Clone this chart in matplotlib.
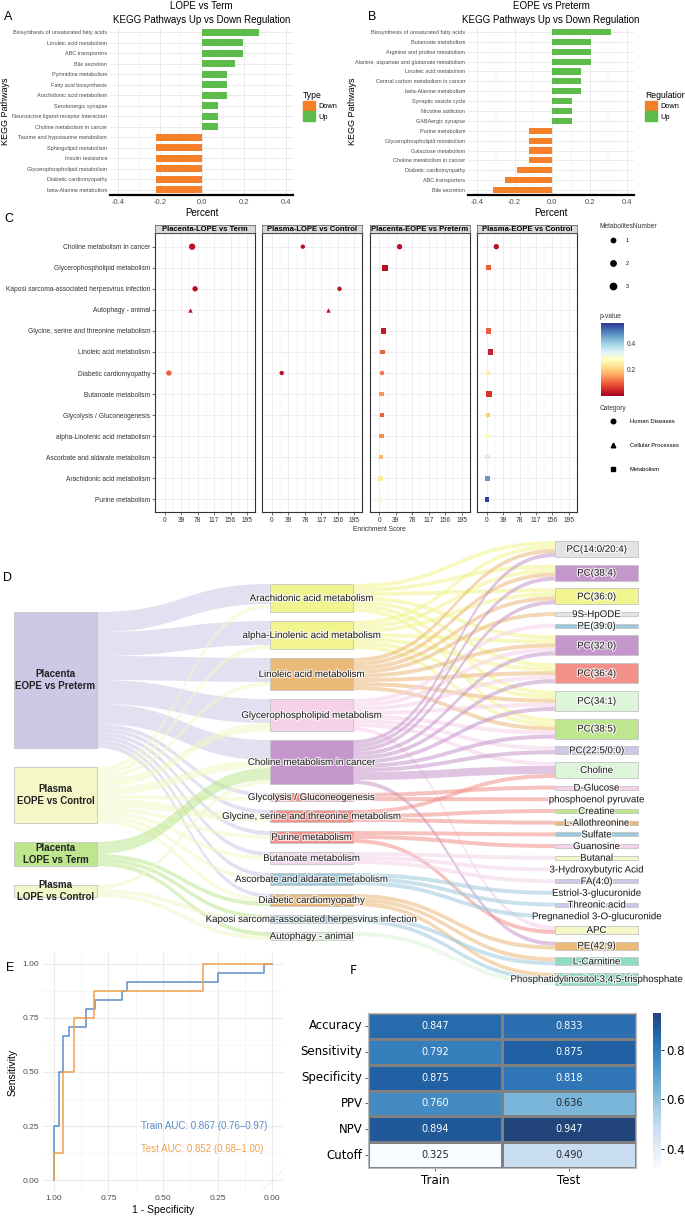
import numpy as np
import matplotlib
matplotlib.use("Agg")
import matplotlib.pyplot as plt
import matplotlib.patheffects as pe
from matplotlib.patches import Patch, PathPatch
from matplotlib.path import Path
from matplotlib.lines import Line2D
from matplotlib.colors import Normalize, ListedColormap
from matplotlib.cm import ScalarMappable
import seaborn as sns

plt.rcParams['font.family'] = ['Liberation Sans', 'DejaVu Sans']

W, H = 685, 1219  # pixels
UP, DOWN = "#5DBB4C", "#F4812A"
GRID = "#EBEBEB"
TXT = "#4D4D4D"

# ---------------- A / B : KEGG up vs down ----------------
a_paths = ["Biosynthesis of unsaturated fatty acids", "Linoleic acid metabolism",
           "ABC transporters", "Bile secretion", "Pyrimidine metabolism",
           "Fatty acid biosynthesis", "Arachidonic acid metabolism",
           "Serotonergic synapse", "Neuroactive ligand-receptor interaction",
           "Choline metabolism in cancer", "Taurine and hypotaurine metabolism",
           "Sphingolipid metabolism", "Insulin resistance",
           "Glycerophospholipid metabolism", "Diabetic cardiomyopathy",
           "beta-Alanine metabolism"]
a_pct = [0.273, 0.195, 0.195, 0.156, 0.117, 0.117, 0.117, 0.078, 0.078, 0.078,
         -0.219, -0.219, -0.219, -0.219, -0.219, -0.219]

b_paths = ["Biosynthesis of unsaturated fatty acids", "Butanoate metabolism",
           "Arginine and proline metabolism",
           "Alanine, aspartate and glutamate metabolism", "Linoleic acid metabolism",
           "Central carbon metabolism in cancer", "beta-Alanine metabolism",
           "Synaptic vesicle cycle", "Nicotine addiction", "GABAergic synapse",
           "Purine metabolism", "Glycerophospholipid metabolism",
           "Galactose metabolism", "Choline metabolism in cancer",
           "Diabetic cardiomyopathy", "ABC transporters", "Bile secretion"]
b_pct = [0.313, 0.208, 0.208, 0.208, 0.156, 0.156, 0.156, 0.104, 0.104, 0.104,
         -0.125, -0.125, -0.125, -0.125, -0.188, -0.25, -0.313]

# ---------------- C : enrichment dot plot ----------------
c_groups = ["Placenta-LOPE vs Term", "Plasma-LOPE vs Control",
            "Placenta-EOPE vs Preterm", "Plasma-EOPE vs Control"]
c_paths = ["Choline metabolism in cancer", "Glycerophospholipid metabolism",
           "Kaposi sarcoma-associated herpesvirus infection", "Autophagy - animal",
           "Glycine, serine and threonine metabolism", "Linoleic acid metabolism",
           "Diabetic cardiomyopathy", "Butanoate metabolism",
           "Glycolysis / Gluconeogenesis", "alpha-Linolenic acid metabolism",
           "Ascorbate and aldarate metabolism", "Arachidonic acid metabolism",
           "Purine metabolism"]
c_kind = [0, 2, 0, 1, 2, 2, 0, 2, 2, 2, 2, 2, 2]
c_kind_names = ["Human Diseases", "Cellular Processes", "Metabolism"]
c_hit_group = [0] * 4 + [1] * 4 + [2] * 11 + [3] * 11
c_hit_path = [0, 2, 3, 6,
              0, 2, 3, 6,
              0, 1, 4, 5, 6, 7, 8, 9, 10, 11, 12,
              0, 1, 4, 5, 6, 7, 8, 9, 10, 11, 12]
c_hit_score = [65, 72, 60, 10,
               73, 160, 133, 23,
               48, 13.5, 10.4, 8, 6.4, 4.8, 6.4, 4.8, 4, 3, 2,
               23, 4.7, 5, 9.5, 4, 5.5, 4, 2.5, 2.5, 2, 1.5]
c_hit_p = [0.02, 0.02, 0.02, 0.1,
           0.02, 0.02, 0.02, 0.02,
           0.02, 0.02, 0.03, 0.1, 0.12, 0.15, 0.1, 0.14, 0.18, 0.24, 0.3,
           0.02, 0.1, 0.1, 0.04, 0.24, 0.06, 0.2, 0.27, 0.35, 0.47, 0.55]
c_hit_n = [3, 2, 1, 2,
           1, 1, 1, 1,
           2, 3, 2, 1, 1, 1, 1, 1, 1, 1, 1,
           2, 2, 2, 2, 1, 2, 1, 1, 1, 1, 1]
c_ticks = [0, 39, 78, 117, 156, 195]

# ---------------- D : sankey ----------------
d_left = ["Placenta\nEOPE vs Preterm", "Plasma\nEOPE vs Control",
          "Placenta\nLOPE vs Term", "Plasma\nLOPE vs Control"]
d_left_colors = ["#CBC9E6", "#F4F8C6", "#BDE68E", "#F2F7C8"]
d_mid = ["Arachidonic acid metabolism", "alpha-Linolenic acid metabolism",
         "Linoleic acid metabolism", "Glycerophospholipid metabolism",
         "Choline metabolism in cancer", "Glycolysis / Gluconeogenesis",
         "Glycine, serine and threonine metabolism", "Purine metabolism",
         "Butanoate metabolism", "Ascorbate and aldarate metabolism",
         "Diabetic cardiomyopathy", "Kaposi sarcoma-associated herpesvirus infection",
         "Autophagy - animal"]
d_mid_colors = ["#F2F58E", "#F2F58E", "#EBB978", "#F5D2E8", "#C596CB", "#F2918A",
                "#F2918A", "#F2918A", "#F3D5EA", "#9DC9DD", "#EBB978", "#9DC9DD",
                "#DDF3D9"]
d_right = ["PC(14:0/20:4)", "PC(38:4)", "PC(36:0)", "9S-HpODE", "PE(39:0)",
           "PC(32:0)", "PC(36:4)", "PC(34:1)", "PC(38:5)", "PC(22:5/0:0)", "Choline",
           "D-Glucose", "phosphoenol pyruvate", "Creatine", "L-Allothreonine",
           "Sulfate", "Guanosine", "Butanal", "3-Hydroxybutyric Acid", "FA(4:0)",
           "Estriol-3-glucuronide", "Threonic acid", "Pregnanediol 3-O-glucuronide",
           "APC", "PE(42:9)", "L-Carnitine",
           "Phosphatidylinositol-3,4,5-trisphosphate"]
d_right_colors = ["#E3E3E3", "#C596CB", "#F2F58E", "#E3E3E3", "#9DC9DD", "#C596CB",
                  "#F2918A", "#DDF5D9", "#BDE68E", "#CBC9E6", "#DDF5D9", "#F5D2E8",
                  "#FFFFFF", "#BDE68E", "#EBB978", "#9DC9DD", "#F5D2E8", "#F4F8C6",
                  "#FFFFFF", "#CBC9E6", "#FFFFFF", "#CBC9E6", "#FFFFFF", "#F4F8C6",
                  "#EBB978", "#8EDCC2", "#8EDCC2"]
# (group, pathway, metabolites)
d_flow_in = [(0, 0, 5), (0, 1, 6), (0, 2, 6), (0, 3, 6), (0, 4, 5), (0, 5, 1),
             (0, 6, 1), (0, 7, 1), (0, 8, 1), (0, 9, 1), (0, 10, 1),
             (1, 0, 1), (1, 1, 1), (1, 2, 1), (1, 3, 2), (1, 4, 2), (1, 5, 1),
             (1, 6, 2), (1, 7, 1), (1, 8, 1), (1, 9, 1), (1, 10, 1),
             (2, 4, 3), (2, 10, 1), (2, 11, 1), (2, 12, 1),
             (3, 4, 1), (3, 11, 1), (3, 12, 1)]
# (pathway, metabolite, weight)
d_flow_out = [(0, 0, 1), (0, 1, 1), (0, 2, 1), (0, 5, 1), (0, 6, 1), (0, 7, 1), (0, 8, 1),
              (1, 0, 1), (1, 1, 1), (1, 2, 1), (1, 5, 1), (1, 6, 1), (1, 7, 1), (1, 8, 1),
              (2, 0, 1), (2, 1, 1), (2, 2, 1), (2, 3, 1), (2, 5, 1), (2, 6, 1), (2, 7, 1),
              (2, 8, 1),
              (3, 4, 1), (3, 5, 1), (3, 6, 1), (3, 7, 1), (3, 8, 1), (3, 9, 1), (3, 10, 1),
              (3, 23, 1),
              (4, 0, 1), (4, 1, 1), (4, 2, 1), (4, 5, 1), (4, 6, 1), (4, 7, 1), (4, 8, 1),
              (4, 9, 1), (4, 10, 2), (4, 24, 1),
              (5, 11, 1), (5, 12, 1),
              (6, 10, 1), (6, 13, 1), (6, 14, 1),
              (7, 15, 1), (7, 16, 1), (7, 23, 1),
              (8, 17, 1), (8, 18, 1), (8, 19, 1),
              (9, 20, 1), (9, 21, 1), (9, 22, 1),
              (10, 24, 1), (10, 25, 1), (10, 26, 1),
              (11, 25, 1), (11, 26, 1),
              (12, 26, 1)]

# ---------------- E : ROC ----------------
e_train_spec = [1, 0.977, 0.957, 0.933, 0.851, 0.81, 0.688, 0.666, 0.248, 0.038, 0]
e_train_sens = [0, 0.25, 0.5, 0.667, 0.708, 0.792, 0.833, 0.875, 0.917, 0.958, 1.0]
e_test_spec = [1, 0.957, 0.907, 0.816, 0.316, 0]
e_test_sens = [0, 0.125, 0.5, 0.75, 0.875, 1.0]
e_train_label = "Train AUC: 0.867 (0.76\u20130.97)"
e_test_label = "Test AUC: 0.852 (0.68\u20131.00)"
TRAIN_C, TEST_C = "#5B8DC6", "#F0A14F"

# ---------------- F : metrics heatmap ----------------
f_rows = ["Accuracy", "Sensitivity", "Specificity", "PPV", "NPV", "Cutoff"]
f_cols = ["Train", "Test"]
f_train = [0.847, 0.792, 0.875, 0.760, 0.894, 0.325]
f_test = [0.833, 0.875, 0.818, 0.636, 0.947, 0.490]


def box(x0, y0, x1, y1):
    # pixel box (top-left origin) -> figure rect
    return [x0 / W, 1 - y1 / H, (x1 - x0) / W, (y1 - y0) / H]


fig = plt.figure(figsize=(W / 100, H / 100), dpi=100)


def kegg_panel(rect, paths, pct, xlim, title, leg_title, leg_xy, ylab_x):
    ax = fig.add_axes(rect)
    y = np.arange(len(paths))
    ax.barh(y, pct, height=0.62, color=[UP if v > 0 else DOWN for v in pct], zorder=3)
    ax.set_ylim(len(paths) - 0.5, -0.5)
    ax.set_xlim(*xlim)
    ax.set_yticks(y)
    ax.set_yticklabels(paths, fontsize=3.95, color=TXT)
    ax.set_xticks([-0.4, -0.2, 0, 0.2, 0.4])
    ax.set_xticklabels(["-0.4", "-0.2", "0.0", "0.2", "0.4"])
    ax.set_xticks([-0.3, -0.1, 0.1, 0.3], minor=True)
    ax.grid(which='major', color=GRID, lw=0.7)
    ax.grid(which='minor', axis='x', color=GRID, lw=0.35)
    ax.set_axisbelow(True)
    for s in ['top', 'right', 'left']:
        ax.spines[s].set_visible(False)
    ax.spines['bottom'].set_linewidth(1.6)
    ax.tick_params(axis='y', length=0, pad=2)
    ax.tick_params(axis='x', which='both', labelsize=5.5, labelcolor=TXT, length=0, pad=3)
    ax.set_xlabel("Percent", fontsize=7, labelpad=1)
    ax.set_ylabel("KEGG Pathways", fontsize=6.5)
    ax.yaxis.set_label_coords(ylab_x, 0.5)
    ax.set_title(title, fontsize=7, pad=3, linespacing=1.5)
    fig.legend([Patch(color=DOWN), Patch(color=UP)], ["Down", "Up"], title=leg_title,
               loc='upper left', bbox_to_anchor=(leg_xy[0] / W, 1 - leg_xy[1] / H),
               frameon=False, fontsize=5.3, title_fontsize=6.2, handlelength=1.6,
               handleheight=1.7, handletextpad=0.5, labelspacing=0.1,
               alignment='left', borderaxespad=0, borderpad=0)
    return ax


kegg_panel(box(110, 27, 293, 195), a_paths, a_pct, (-0.438, 0.433),
           "LOPE vs Term\nKEGG Pathways Up vs Down Regulation", "Type", (303, 91),
           (10 - 110) / 183)
kegg_panel(box(468, 27, 634, 195), b_paths, b_pct, (-0.448, 0.437),
           "EOPE vs Preterm\nKEGG Pathways Up vs Down Regulation", "Regulation", (645, 91),
           (357 - 468) / 166)

# ---------------- C ----------------
cmap = plt.get_cmap('RdYlBu')
pnorm = Normalize(0.0, 0.56)
markers = ['o', '^', 's']
msize = {1: 10, 2: 15, 3: 21}
for g, gname in enumerate(c_groups):
    x0 = 155 + g * 107.3
    ax = fig.add_axes(box(x0, 233, x0 + 100, 512))
    ax.set_xlim(-23, 214)
    ax.set_ylim(len(c_paths) - 0.4, -0.65)
    ax.set_xticks(c_ticks)
    ax.set_xticks([t + 19.5 for t in c_ticks[:-1]], minor=True)
    ax.set_yticks(range(len(c_paths)))
    ax.grid(which='major', color=GRID, lw=0.6)
    ax.grid(which='minor', axis='x', color=GRID, lw=0.3)
    ax.set_axisbelow(True)
    for s in ax.spines.values():
        s.set_color('#333333')
        s.set_linewidth(0.8)
    ax.tick_params(which='both', length=2, width=0.5, color='#333333', labelsize=4.8,
                   labelcolor='#333333', pad=1.5)
    ax.tick_params(which='minor', length=0)
    if g == 0:
        ax.set_yticklabels(c_paths)
    else:
        ax.set_yticklabels([])
        ax.tick_params(axis='y', length=0)
    for k in range(3):
        idx = [i for i in range(len(c_hit_group))
               if c_hit_group[i] == g and c_kind[c_hit_path[i]] == k]
        if not idx:
            continue
        ax.scatter([c_hit_score[i] for i in idx], [c_hit_path[i] for i in idx],
                   s=[msize[c_hit_n[i]] for i in idx],
                   c=[c_hit_p[i] for i in idx], cmap=cmap, norm=pnorm,
                   marker=markers[k], linewidths=0, zorder=3)
    strip = fig.add_axes(box(x0, 225, x0 + 100, 233))
    strip.set_facecolor('#D9D9D9')
    strip.set_xticks([])
    strip.set_yticks([])
    for s in strip.spines.values():
        s.set_color('#555555')
        s.set_linewidth(0.5)
    strip.text(0.5, 0.45, gname, ha='center', va='center', fontsize=5.5,
               weight='bold', transform=strip.transAxes)
fig.text(379 / W, 1 - 530 / H, "Enrichment Score", ha='center', va='center',
         fontsize=4.8, color='#333333')

# C legends
fig.text(600 / W, 1 - 226 / H, "MetabolitesNumber", fontsize=4.8, color='#333333',
         va='center')
size_handles = [Line2D([], [], ls='', marker='o', color='black',
                       markersize=np.sqrt(msize[n])) for n in (1, 2, 3)]
fig.legend(size_handles, ["1", "2", "3"], loc='upper left',
           bbox_to_anchor=(610 / W, 1 - 238 / H), frameon=False, fontsize=3.8,
           labelspacing=3.4, handlelength=1, handletextpad=2.0,
           borderaxespad=0, borderpad=0)
fig.text(600 / W, 1 - 317 / H, "p-value", fontsize=4.8, color='#333333', va='center')
cax = fig.add_axes(box(601, 323, 624, 396))
cb = fig.colorbar(ScalarMappable(norm=pnorm, cmap=cmap), cax=cax, ticks=[0.2, 0.4])
cb.outline.set_visible(False)
cax.tick_params(length=0, labelsize=4.8, labelcolor='#333333', pad=2)
fig.text(600 / W, 1 - 408 / H, "Category", fontsize=4.8, color='#333333', va='center')
kind_handles = [Line2D([], [], ls='', marker=m, color='black', markersize=3.3)
                for m in markers]
fig.legend(kind_handles, c_kind_names, loc='upper left',
           bbox_to_anchor=(610 / W, 1 - 419 / H), frameon=False, fontsize=4.2,
           labelspacing=3.2, handlelength=1, handletextpad=2.4,
           borderaxespad=0, borderpad=0)

# ---------------- D : sankey ----------------
dax = fig.add_axes(box(0, 530, W, 1000))
dax.set_xlim(0, W)
dax.set_ylim(1000, 530)
dax.axis('off')

unit = 4.0
COL_X = [(14, 97), (270, 353), (555, 638)]
out_l = np.zeros(len(d_left))
in_m = np.zeros(len(d_mid))
out_m = np.zeros(len(d_mid))
in_r = np.zeros(len(d_right))
for s, t, v in d_flow_in:
    out_l[s] += v
    in_m[t] += v
for s, t, v in d_flow_out:
    out_m[s] += v
    in_r[t] += v
h_l = out_l * unit
h_m = np.maximum(in_m, out_m) * unit
h_r = in_r * unit


def stack_column(heights, top, bottom):
    gap = (bottom - top - heights.sum()) / (len(heights) - 1)
    return top + np.concatenate([[0], np.cumsum(heights[:-1] + gap)])


top_l = stack_column(h_l, 612, 897)
top_m = stack_column(h_m, 584, 940)
top_r = stack_column(h_r, 541, 985)


def draw_links(flows, top_s, h_s, top_t, h_t, xs, xt, colors):
    cen_s = top_s + h_s / 2
    cen_t = top_t + h_t / 2
    ys, yt = {}, {}
    cur = top_s.copy()
    for i in sorted(range(len(flows)), key=lambda i: (flows[i][0], cen_t[flows[i][1]])):
        s, t, v = flows[i]
        ys[i] = cur[s]
        cur[s] += v * unit
    cur = top_t.copy()
    for i in sorted(range(len(flows)), key=lambda i: (flows[i][1], cen_s[flows[i][0]])):
        s, t, v = flows[i]
        yt[i] = cur[t]
        cur[t] += v * unit
    xm = (xs + xt) / 2
    for i, (s, t, v) in enumerate(flows):
        w = v * unit
        verts = [(xs, ys[i]), (xm, ys[i]), (xm, yt[i]), (xt, yt[i]),
                 (xt, yt[i] + w), (xm, yt[i] + w), (xm, ys[i] + w), (xs, ys[i] + w),
                 (xs, ys[i])]
        codes = [Path.MOVETO, Path.CURVE4, Path.CURVE4, Path.CURVE4, Path.LINETO,
                 Path.CURVE4, Path.CURVE4, Path.CURVE4, Path.CLOSEPOLY]
        dax.add_patch(PathPatch(Path(verts, codes), facecolor=colors[s],
                                edgecolor='none', alpha=0.55, zorder=1))


draw_links(d_flow_in, top_l, h_l, top_m, h_m, COL_X[0][1], COL_X[1][0], d_left_colors)
draw_links(d_flow_out, top_m, h_m, top_r, h_r, COL_X[1][1], COL_X[2][0], d_mid_colors)

halo = [pe.withStroke(linewidth=1.6, foreground='white', alpha=0.8)]
for (xa, xb), names, tops, hs, cols, bold in [
        (COL_X[0], d_left, top_l, h_l, d_left_colors, True),
        (COL_X[1], d_mid, top_m, h_m, d_mid_colors, False),
        (COL_X[2], d_right, top_r, h_r, d_right_colors, False)]:
    for name, t, h, c in zip(names, tops, hs, cols):
        dax.bar(xa, h, width=xb - xa, bottom=t, align='edge', color=c,
                edgecolor='#C4C4C4' if c != "#FFFFFF" else 'none', lw=0.6, zorder=2)
        dax.text((xa + xb) / 2, t + h / 2, name, ha='center', va='center',
                 fontsize=7, weight='bold' if bold else 'normal',
                 color='#222222', zorder=3, path_effects=None if bold else halo,
                 linespacing=1.3)

# ---------------- E : ROC ----------------
eax = fig.add_axes(box(43, 953, 283, 1191))
eax.plot(e_train_spec, e_train_sens, drawstyle='steps-pre', color=TRAIN_C, lw=1.1)
eax.plot(e_test_spec, e_test_sens, drawstyle='steps-pre', color=TEST_C, lw=1.1)
eax.plot([0.1, -0.1], [-0.1, 0.1], ls=(0, (2, 2)), color='#CCCCCC', lw=0.5)
eax.set_xlim(1.05, -0.05)
eax.set_ylim(-0.05, 1.05)
ticks = [0, 0.25, 0.5, 0.75, 1.0]
eax.set_xticks(ticks)
eax.set_yticks(ticks)
eax.set_xticklabels(["%.2f" % t for t in ticks])
eax.set_yticklabels(["%.2f" % t for t in ticks])
eax.set_xticks([0.125, 0.375, 0.625, 0.875], minor=True)
eax.set_yticks([0.125, 0.375, 0.625, 0.875], minor=True)
eax.grid(which='major', color=GRID, lw=0.8)
eax.grid(which='minor', color='#F3F3F3', lw=0.5)
eax.set_axisbelow(True)
for s in eax.spines.values():
    s.set_visible(False)
eax.tick_params(which='both', length=0, labelsize=6, labelcolor=TXT, pad=3)
eax.set_xlabel("1 - Specificity", fontsize=7.5, labelpad=2)
eax.set_ylabel("Sensitivity", fontsize=7.5, labelpad=3)
eax.text(0.6, 0.25, e_train_label, color=TRAIN_C, fontsize=7, va='center')
eax.text(0.6, 0.145, e_test_label, color=TEST_C, fontsize=7, va='center')

# ---------------- F : heatmap ----------------
fax = fig.add_axes(box(368, 1013, 636, 1168))
fcax = fig.add_axes(box(653, 1013, 661, 1168))
fvals = np.column_stack([f_train, f_test])
# Blues, slightly washed out like the reference
blues = plt.get_cmap('Blues')(np.linspace(0, 1, 256))
blues[:, :3] = blues[:, :3] * 0.9 + 0.1
sns.heatmap(fvals, ax=fax, cbar_ax=fcax, cmap=ListedColormap(blues), annot=True,
            fmt='.3f', linewidths=0.8, linecolor='gray',
            annot_kws={'fontsize': 7, 'fontfamily': 'DejaVu Sans'})
fax.set_xticklabels(f_cols, fontsize=8.5, fontfamily='DejaVu Sans')
fax.set_yticklabels(f_rows, fontsize=8.5, fontfamily='DejaVu Sans', rotation=0)
fax.tick_params(length=2, width=0.6, color='#444444', pad=2)
for s in fax.spines.values():
    s.set_visible(True)
    s.set_color('#BBBBBB')
    s.set_linewidth(0.8)
fcax.set_yticks([0.4, 0.6, 0.8])
fcax.set_yticklabels(["0.4", "0.6", "0.8"], fontsize=8.5, fontfamily='DejaVu Sans')
fcax.tick_params(length=2, width=0.6, pad=2)
for s in fcax.spines.values():
    s.set_visible(False)

# panel letters
for letter, x, y, fam in [("A", 8, 17, None), ("B", 372, 17, None), ("C", 9, 219, None),
                          ("D", 8, 578, None), ("E", 10, 968, None),
                          ("F", 353, 971, 'DejaVu Sans')]:
    fig.text(x / W, 1 - y / H, letter, fontsize=9, ha='center', va='center',
             family=fam if fam else plt.rcParams['font.family'])

fig.savefig("out.png", dpi=100)
